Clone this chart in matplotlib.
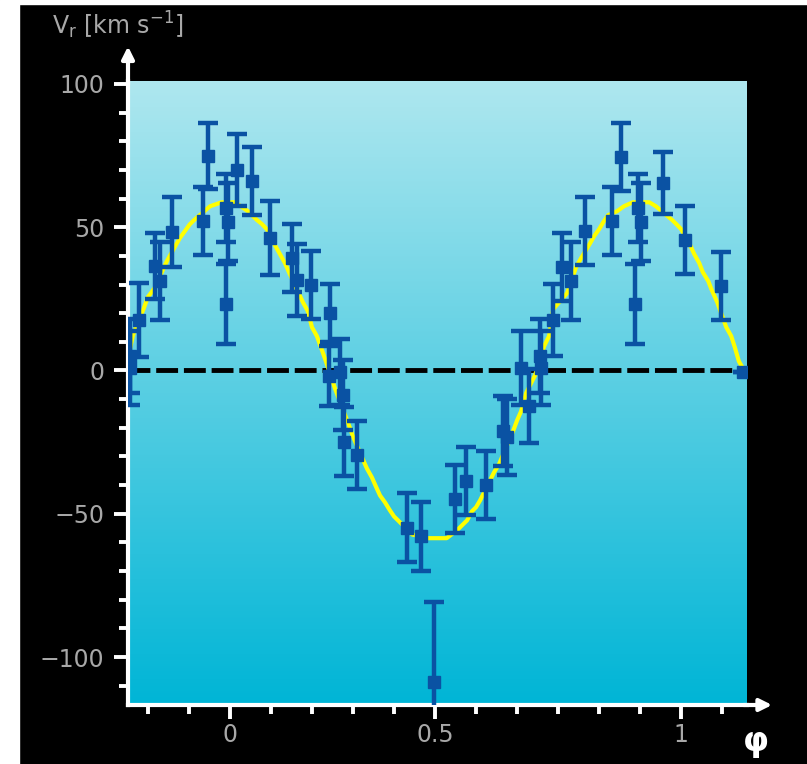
import numpy as np
import matplotlib.pyplot as plt
from matplotlib.colors import LinearSegmentedColormap
from matplotlib.patches import Rectangle

# observed radial velocities (phase, km/s, error)
phase = [-0.222, -0.222, -0.202, -0.166, -0.155, -0.129, -0.060, -0.049, -0.009, -0.009,
         -0.004, 0.016, 0.049, 0.089, 0.138, 0.149, 0.180, 0.222, 0.220, 0.244,
         0.251, 0.253, 0.282, 0.393, 0.424, 0.453, 0.499, 0.524, 0.568, 0.606,
         0.615, 0.646, 0.663, 0.688, 0.690, 0.717, 0.737, 0.757, 0.788, 0.848,
         0.868, 0.899, 0.905, 0.912, 0.961, 1.010, 1.089, 1.138]
vel = [5.0, 0.8, 17.6, 36.3, 31.2, 48.3, 52.1, 74.8, 23.1, 56.6,
       51.9, 69.9, 66.1, 46.2, 39.2, 31.5, 29.8, 20.0, -2.0, -0.6,
       -8.7, -24.8, -29.4, -54.8, -57.9, -108.8, -44.9, -38.6, -40.0, -21.2,
       -23.3, 0.8, -12.3, 5.0, 0.8, 17.6, 36.1, 31.2, 48.6, 52.1,
       74.5, 23.1, 56.6, 51.9, 65.4, 45.5, 29.4, -0.6]
err = [12.9, 12.9, 12.9, 11.5, 13.6, 12.2, 11.9, 11.5, 14.0, 11.9,
       13.6, 12.6, 11.9, 12.9, 11.9, 12.6, 11.9, 10.1, 10.5, 11.5,
       12.2, 11.9, 11.9, 11.9, 11.9, 27.9, 11.9, 11.9, 11.9, 12.2,
       13.3, 12.9, 12.9, 12.9, 12.9, 12.6, 11.9, 13.6, 11.9, 11.9,
       11.9, 14.0, 11.9, 13.6, 10.8, 11.9, 11.9, 0.0]

# model curve
model_phase = [-0.226, -0.215, -0.191, -0.182, -0.164, -0.151, -0.140, -0.120, -0.111, -0.100,
               -0.089, -0.080, -0.044, -0.018, 0.011, 0.040, 0.060, 0.071, 0.082, 0.100,
               0.111, 0.122, 0.131, 0.162, 0.173, 0.182, 0.193, 0.202, 0.213, 0.233,
               0.264, 0.273, 0.293, 0.304, 0.315, 0.324, 0.333, 0.344, 0.355, 0.364,
               0.375, 0.404, 0.439, 0.481, 0.506, 0.515, 0.526, 0.537, 0.546, 0.555,
               0.586, 0.597, 0.628, 0.637, 0.646, 0.657, 0.677, 0.697, 0.708, 0.717,
               0.748, 0.768, 0.779, 0.799, 0.808, 0.819, 0.828, 0.839, 0.859, 0.874,
               0.894, 0.930, 0.945, 0.981, 0.990, 1.001, 1.021, 1.030, 1.041, 1.049,
               1.061, 1.069, 1.081, 1.101, 1.112, 1.120, 1.129, 1.143]
model_vel = [4.3, 12.3, 21.7, 25.6, 29.4, 34.3, 38.1, 43.7, 46.2, 48.6,
             51.0, 52.4, 57.3, 58.7, 58.7, 55.6, 52.5, 51.1, 49.3, 43.7,
             40.6, 37.5, 34.3, 23.8, 20.7, 15.1, 12.0, 8.1, 3.2, -6.2,
             -19.1, -23.0, -30.3, -34.2, -37.3, -40.5, -43.6, -46.0, -48.8, -50.9,
             -52.6, -57.2, -58.5, -58.5, -55.4, -54.0, -52.3, -49.1, -47.7, -45.3,
             -35.5, -32.7, -21.2, -17.4, -14.2, -7.9, -1.6, 8.5, 12.0, 21.4,
             27.0, 36.1, 39.2, 44.4, 46.9, 49.3, 51.7, 54.2, 55.6, 57.3,
             58.7, 58.7, 57.3, 52.5, 51.1, 49.3, 43.7, 40.6, 37.5, 34.3,
             31.2, 28.0, 23.8, 15.1, 12.0, 8.1, 3.2, -0.6]

xtick_pos = [0, 5 / 11, 1]
xtick_labels = ['0', '0.5', '1']
ytick_pos = [-100, -50, 0, 50, 100]
ytick_labels = ['\u2212100', '\u221250', '0', '50', '100']

blue = '#0a52a3'
grey = '#a8a8a8'

fig = plt.figure(figsize=(8.07, 7.64), dpi=100, facecolor='black')
fig.patches.append(Rectangle((0, 0), 19 / 807, 1, transform=fig.transFigure,
                             color='white', zorder=-1))
fig.patches.append(Rectangle((0, 1 - 4 / 764), 1, 4 / 764, transform=fig.transFigure,
                             color='white', zorder=-1))

ax = fig.add_axes([128 / 807, 59 / 764, 619 / 807, 624 / 764])
xmin, xmax, ymin, ymax = -0.226, 1.147, -116.7, 101.0

cmap = LinearSegmentedColormap.from_list('bg', ['#aee7ef', '#00b5d6'])
grad = np.linspace(0, 1, 256).reshape(-1, 1)
ax.imshow(grad, cmap=cmap, extent=[xmin, xmax, ymin, ymax], aspect='auto',
          origin='upper', zorder=0)

ax.axhline(0, color='black', lw=3.5, dashes=(4.5, 1.2), zorder=1)
ax.plot(model_phase, model_vel, color='#ffff00', lw=3, zorder=2)
ax.errorbar(phase, vel, yerr=err, fmt='s', color=blue, ms=8.5, mec=blue,
            elinewidth=3.2, capsize=7, capthick=3.2, zorder=3)

ax.set_xlim(xmin, xmax)
ax.set_ylim(ymin, ymax)
ax.set_facecolor('black')

for s in ['top', 'right']:
    ax.spines[s].set_visible(False)
for s in ['left', 'bottom']:
    ax.spines[s].set_color('white')
    ax.spines[s].set_linewidth(3)

ax.set_xticks(xtick_pos)
ax.set_xticklabels(xtick_labels)
ax.set_xticks([k / 11 for k in range(-2, 13)], minor=True)
ax.set_yticks(ytick_pos)
ax.set_yticklabels(ytick_labels)
ax.set_yticks(np.arange(-110, 101, 10), minor=True)

ax.tick_params(which='both', direction='out', color='white', width=2.8,
               labelcolor=grey, labelsize=17)
ax.tick_params(which='major', length=10)
ax.tick_params(which='minor', length=6.5)
ax.tick_params(axis='y', pad=7)
ax.tick_params(axis='x', pad=3)

# axis arrows
ax.annotate('', xy=(0, 1.06), xytext=(0, 0.99), xycoords='axes fraction',
            arrowprops=dict(arrowstyle='-|>', color='white', lw=3, mutation_scale=18),
            annotation_clip=False)
ax.annotate('', xy=(1.045, 0), xytext=(0.99, 0), xycoords='axes fraction',
            arrowprops=dict(arrowstyle='-|>', color='white', lw=3, mutation_scale=18),
            annotation_clip=False)

fig.text(52 / 807, 1 - 10 / 764, 'V$_\\mathrm{r}$ [km s$^{-1}$]', color=grey, fontsize=17,
         ha='left', va='top')
fig.text(756 / 807, 1 - 741 / 764, '\u03c6', color='white', fontsize=24,
         fontweight='bold', ha='center', va='center')

fig.savefig('out.png', dpi=100, facecolor=fig.get_facecolor())
